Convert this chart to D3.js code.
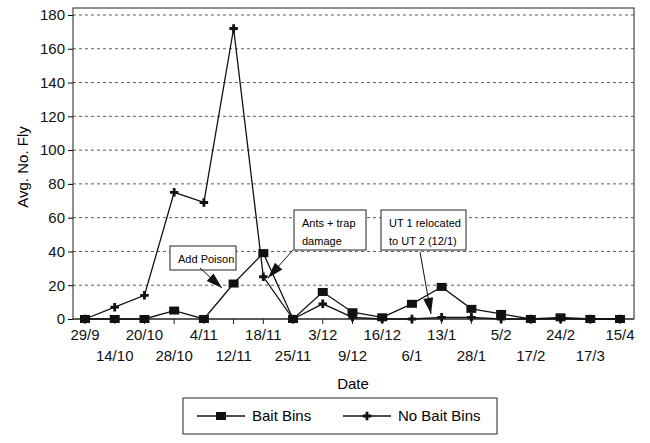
<!DOCTYPE html>
<html><head><meta charset="utf-8">
<script src="https://cdn.jsdelivr.net/npm/d3@7"></script>
<style>body{margin:0;background:#fff}text{font-family:Arial,"Liberation Sans",sans-serif}</style>
</head><body><svg id="viz"></svg>
<script>
const dates = ["29/9","14/10","20/10","28/10","4/11","12/11","18/11","25/11","3/12","9/12","16/12","6/1","13/1","28/1","5/2","17/2","24/2","17/3","15/4"];
const baitBins = [0,0,0,5,0,21,39,0,16,4,1,9,19,6,3,0,1,0,0];
const noBaitBins = [0,7,14,75,69,172,25,0,9,1,0,0,1,1,0,0,0,0,0];
const yTicks = [0,20,40,60,80,100,120,140,160,180];

const width = 650, height = 443;
const svg = d3.select('#viz').attr('width', width).attr('height', height);

const pLeft = 73, pRight = 634, pTop = 15, pBottom = 319;

const x = d3.scalePoint().domain(dates).range([85, 620]);
const y = d3.scaleLinear().domain([0, 180]).range([pBottom, pTop]);

svg.append("rect").attr("x", pLeft).attr("y", pTop - 7).attr("width", pRight - pLeft).attr("height", pBottom - pTop + 7)
    .attr("fill", "none").attr("stroke", "#222").attr("stroke-width", 1);

/* Grid */
svg.append("g").selectAll("line").data(yTicks.slice(1)).enter().append("line")
    .attr("x1", pLeft).attr("x2", pRight).attr("y1", d => y(d)).attr("y2", d => y(d))
    .attr("stroke", "#333").attr("stroke-dasharray", "3,3").attr("stroke-width", 0.8);

/* Axes */
svg.append("g").attr("transform", `translate(${pLeft},0)`)
    .call(d3.axisLeft(y).tickValues(yTicks).tickSize(5).tickSizeOuter(0))
    .call(g => g.select(".domain").remove())
    .call(g => g.selectAll("text").attr("font-size", 15).attr("fill", "#111"));

const gx = svg.append("g").attr("transform", `translate(0,${pBottom})`);
gx.append("line").attr("x1", pLeft).attr("x2", pRight).attr("stroke", "#222");
gx.selectAll("line.t").data(dates).enter().append("line").attr("class", "t")
    .attr("x1", d => x(d)).attr("x2", d => x(d)).attr("y1", 0).attr("y2", 5).attr("stroke", "#222");
gx.selectAll("text").data(dates).enter().append("text")
    .attr("x", d => x(d)).attr("y", (d, i) => i % 2 ? 42 : 21)
    .attr("text-anchor", "middle").attr("font-size", 15).attr("fill", "#111").text(d => d);

svg.append("text").attr("x", 353).attr("y", 389).attr("text-anchor", "middle").attr("font-size", 15).text("Date");
svg.append("text").attr("transform", `translate(28,${(pTop + pBottom) / 2}) rotate(-90)`)
    .attr("text-anchor", "middle").attr("font-size", 15).text("Avg. No. Fly");

/* Lines */
const line = d3.line().x((d, i) => x(dates[i])).y(d => y(d));
svg.append("path").attr("d", line(baitBins)).attr("fill", "none").attr("stroke", "#111").attr("stroke-width", 1.3);
svg.append("path").attr("d", line(noBaitBins)).attr("fill", "none").attr("stroke", "#111").attr("stroke-width", 1.3);

svg.append("g").selectAll("rect").data(baitBins).enter().append("rect")
    .attr("x", (d, i) => x(dates[i]) - 5).attr("y", d => y(d) - 4).attr("width", 10).attr("height", 8).attr("fill", "#111");

const plus = d3.symbol().type(d3.symbolCross).size(40);
svg.append("g").selectAll("path").data(noBaitBins).enter().append("path")
    .attr("transform", (d, i) => `translate(${x(dates[i])},${y(d)})`).attr("d", plus).attr("fill", "#111");

/* Annotations */
function note(bx, by, bw, bh, lines, from, to) {
  const g = svg.append("g");
  g.append("rect").attr("x", bx).attr("y", by).attr("width", bw).attr("height", bh)
      .attr("fill", "#fff").attr("stroke", "#222");
  lines.forEach((t, i) => g.append("text").attr("x", bx + 8).attr("y", by + 17 + i * 18)
      .attr("font-size", 11).text(t));
  const dx = to[0] - from[0], dy = to[1] - from[1], len = Math.hypot(dx, dy);
  const ux = dx / len, uy = dy / len, hl = 16, hw = 5;
  const bxp = to[0] - ux * hl, byp = to[1] - uy * hl;
  g.append("line").attr("x1", from[0]).attr("y1", from[1]).attr("x2", to[0]).attr("y2", to[1]).attr("stroke", "#111");
  g.append("path").attr("d", `M${to[0]},${to[1]}L${bxp - uy * hw},${byp + ux * hw}L${bxp + uy * hw},${byp - ux * hw}Z`).attr("fill", "#111");
}
note(170, 246, 66, 24, ["Add Poison"], [200, 268], [222, 288]);
note(294, 210, 72, 40, ["Ants + trap", "damage"], [293, 250], [268, 278]);
note(381, 210, 85, 40, ["UT 1 relocated", "to UT 2 (12/1)"], [420, 252], [431, 314]);

/* Legend */
const lg = svg.append("g");
lg.append("rect").attr("x", 183).attr("y", 398).attr("width", 314).attr("height", 36).attr("fill", "#fff").attr("stroke", "#222");
lg.append("line").attr("x1", 197).attr("x2", 245).attr("y1", 416).attr("y2", 416).attr("stroke", "#111").attr("stroke-width", 1.3);
lg.append("rect").attr("x", 216).attr("y", 412).attr("width", 10).attr("height", 8).attr("fill", "#111");
lg.append("text").attr("x", 252).attr("y", 421).attr("font-size", 15).text("Bait Bins");
lg.append("line").attr("x1", 343).attr("x2", 391).attr("y1", 416).attr("y2", 416).attr("stroke", "#111").attr("stroke-width", 1.3);
lg.append("path").attr("transform", "translate(367,416)").attr("d", plus).attr("fill", "#111");
lg.append("text").attr("x", 398).attr("y", 421).attr("font-size", 15).text("No Bait Bins");
</script></body></html>
